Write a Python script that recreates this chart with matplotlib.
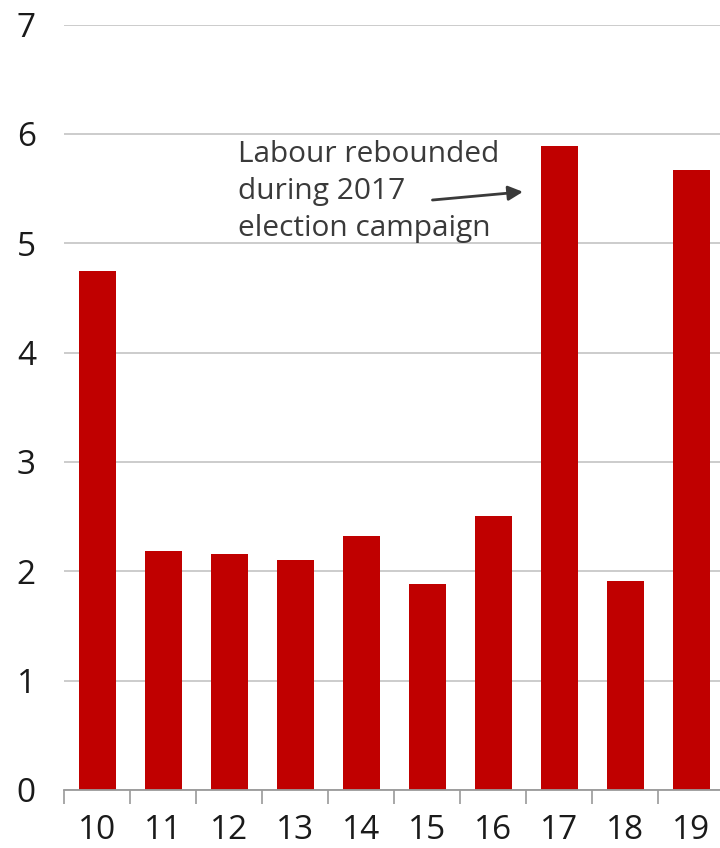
import matplotlib
matplotlib.use("Agg")
import matplotlib.pyplot as plt
import numpy as np

# Year labels (20xx) and values
years = ["10", "11", "12", "13", "14", "15", "16", "17", "18", "19"]
values = [4.75, 2.19, 2.16, 2.10, 2.32, 1.88, 2.51, 5.89, 1.91, 5.67]
y_ticks = [0, 1, 2, 3, 4, 5, 6, 7]

bar_color = "#C00000"
grid_color = "#C8C8C8"
axis_color = "#9A9A9A"
text_color = "#1A1A1A"
note_color = "#3A3A3A"

plt.rcParams["font.family"] = ["Open Sans", "DejaVu Sans"]

fig = plt.figure(figsize=(7.2, 8.48), dpi=100)
ax = fig.add_axes([64 / 720, 1 - 790 / 848, 1 - 64 / 720 + 0.006, (790 - 24.5) / 848])

x = np.arange(len(years))
ax.bar(x, values, width=0.56, color=bar_color, zorder=3)

ax.set_xlim(-0.5, len(years) - 0.5)
ax.set_ylim(0, 7)

ax.set_yticks(y_ticks)
ax.set_yticklabels([str(v) for v in y_ticks], fontsize=24, color=text_color, ha="left")
ax.tick_params(axis="y", length=0, pad=34)
ax.yaxis.grid(True, color=grid_color, linewidth=1.3, zorder=0)

ax.set_xticks(x)
ax.set_xticklabels(years, fontsize=24, color=text_color)
ax.set_xticks(np.arange(len(years)) - 0.5, minor=True)
ax.tick_params(axis="x", which="major", length=0, pad=17)
ax.tick_params(axis="x", which="minor", length=10, width=1.2, color=axis_color)

for side in ["top", "right", "left"]:
    ax.spines[side].set_visible(False)
ax.spines["bottom"].set_color(axis_color)
ax.spines["bottom"].set_linewidth(1.3)
ax.spines["bottom"].set_zorder(4)

ax.text(2.14, 5.47, "Labour rebounded\nduring 2017\nelection campaign",
        fontsize=21.5, color=note_color, ha="left", va="center",
        linespacing=1.36, zorder=5)
ax.annotate("", xy=(6.45, 5.47), xytext=(5.08, 5.395),
            arrowprops=dict(arrowstyle="-|>", color=note_color, lw=2,
                            mutation_scale=22, shrinkA=0, shrinkB=0),
            zorder=5)

fig.savefig("out.png", dpi=100)
